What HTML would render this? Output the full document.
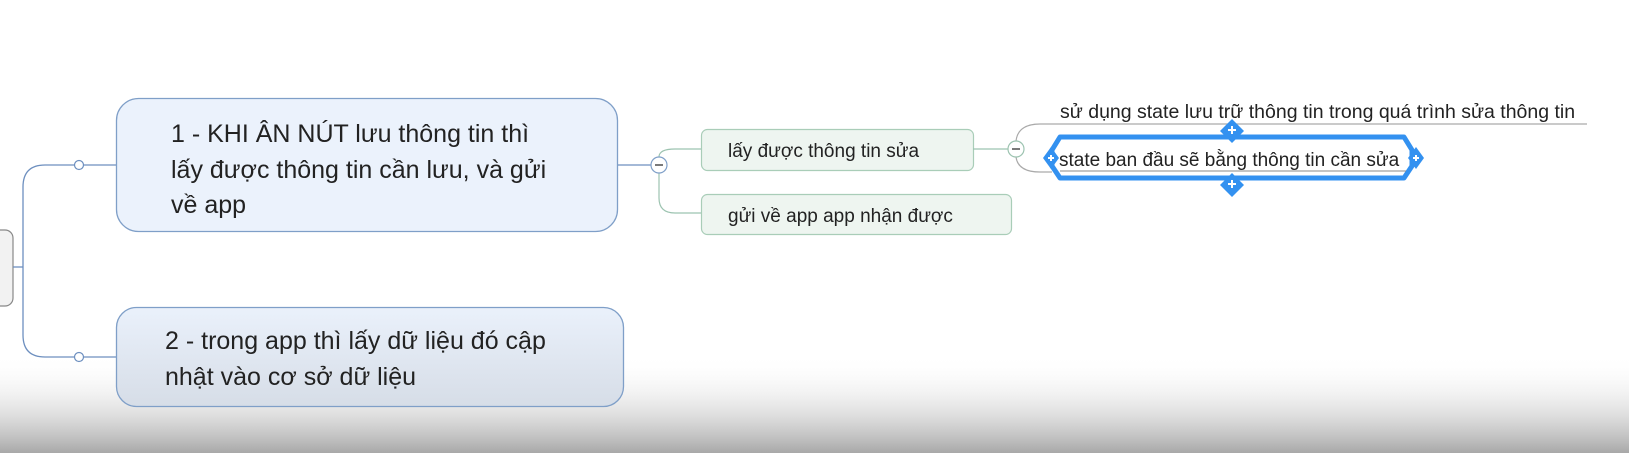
<!DOCTYPE html>
<html><head><meta charset="utf-8"><style>
html,body{margin:0;padding:0;}
body{width:1629px;height:453px;overflow:hidden;background:#fff;position:relative;font-family:"Liberation Sans","DejaVu Sans",sans-serif;}
svg{position:absolute;left:0;top:0;}
</style></head><body>
<svg width="1629" height="453" viewBox="0 0 1629 453" xmlns="http://www.w3.org/2000/svg">
<defs>
<linearGradient id="bg" x1="0" y1="0" x2="0" y2="1">
<stop offset="0" stop-color="#ffffff" stop-opacity="0"/>
<stop offset="1" stop-color="#a8a8a8"/>
</linearGradient>
<linearGradient id="b2" x1="0" y1="0" x2="0" y2="1">
<stop offset="0" stop-color="#eaf1fb"/>
<stop offset="1" stop-color="#d6dde7"/>
</linearGradient>
</defs>
<!-- bottom gradient -->
<rect x="0" y="355" width="1629" height="98" fill="url(#bg)"/>
<!-- root partial -->
<rect x="-20" y="230" width="33" height="76" rx="8" fill="#f2f2f2" stroke="#888" stroke-width="1.2"/>
<!-- root connectors -->
<path d="M13 267 H23" stroke="#6d8fbf" stroke-width="1.3" fill="none"/>
<path d="M79 165 H45 Q23 165 23 187 V335 Q23 357 45 357 H79" stroke="#6d8fbf" stroke-width="1.3" fill="none"/>
<path d="M83 165 H116 M83 357 H116" stroke="#6d8fbf" stroke-width="1.3"/>
<circle cx="79" cy="165" r="4.5" fill="#fff" stroke="#6d8fbf" stroke-width="1.2"/>
<circle cx="79" cy="357" r="4.5" fill="#fff" stroke="#6d8fbf" stroke-width="1.2"/>
<!-- box1 -->
<rect x="116.5" y="98.5" width="501" height="133" rx="22" fill="#ebf2fc" stroke="#7f9fc8" stroke-width="1.3"/>
<text font-size="25" fill="#222">
<tspan x="171" y="142">1 - KHI ÂN NÚT lưu thông tin thì</tspan>
<tspan x="171" y="178">lấy được thông tin cần lưu, và gửi</tspan>
<tspan x="171" y="213">về app</tspan>
</text>
<!-- box2 -->
<rect x="116.5" y="307.5" width="507" height="99" rx="20" fill="url(#b2)" stroke="#7f9fc8" stroke-width="1.3"/>
<text font-size="25" fill="#222">
<tspan x="165" y="349">2 - trong app thì lấy dữ liệu đó cập</tspan>
<tspan x="165" y="385">nhật vào cơ sở dữ liệu</tspan>
</text>
<!-- box1 -> circle -->
<path d="M618 165 H651" stroke="#6d8fbf" stroke-width="1.3"/>
<path d="M659 157 Q659 149 675 149 H701 M659 173 V198 Q659 213 675 213 H701" stroke="#9cc3b0" stroke-width="1.2" fill="none"/>
<circle cx="659" cy="165" r="8" fill="#fff" stroke="#7f9fc8" stroke-width="1.2"/>
<path d="M655 165 H663" stroke="#333" stroke-width="1.3"/>
<!-- green boxes -->
<rect x="701.5" y="129.5" width="272" height="41" rx="6" fill="#eef5f0" stroke="#a9cdb8" stroke-width="1.2"/>
<text x="728" y="157" font-size="19" fill="#222">lấy được thông tin sửa</text>
<rect x="701.5" y="194.5" width="310" height="40" rx="6" fill="#eef5f0" stroke="#a9cdb8" stroke-width="1.2"/>
<text x="728" y="222" font-size="19" fill="#222">gửi về app app nhận được</text>
<!-- box3 -> circle -->
<path d="M973 149 H1008" stroke="#9cc3b0" stroke-width="1.2"/>
<path d="M1016 141 Q1018 124 1040 124 H1587 M1016 157 Q1018 172 1040 172 H1052" stroke="#aaa" stroke-width="1.2" fill="none"/>
<circle cx="1016" cy="149" r="8" fill="#fff" stroke="#9cc3b0" stroke-width="1.2"/>
<path d="M1012 149 H1020" stroke="#333" stroke-width="1.3"/>
<text x="1060" y="118" font-size="19.5" fill="#222">sử dụng state lưu trữ thông tin trong quá trình sửa thông tin</text>
<!-- selected node -->
<path d="M1060 137 H1404 L1412 150 V166 L1404 178 H1060 L1052 166 V150 Z" fill="#fff" stroke="#3391f0" stroke-width="5" stroke-linejoin="round"/>
<path d="M1060 171 H1406" stroke="#888" stroke-width="1"/>
<text x="1059" y="166" font-size="19" fill="#222">state ban đầu sẽ bằng thông tin cần sửa</text>
<!-- diamonds -->
<g fill="#3391f0">
<path d="M1232 119 L1244 131 L1232 143 L1220 131Z"/>
<path d="M1232 173 L1244 185 L1232 197 L1220 185Z"/>
<path d="M1051 147 L1059 158 L1051 169 L1043 158Z"/>
<path d="M1416 147 L1424 158 L1416 169 L1408 158Z"/>
</g>
<g stroke="#fff" stroke-width="2">
<path d="M1228 130 H1236 M1232 126 V134"/>
<path d="M1228 184 H1236 M1232 180 V188"/>
<path d="M1048 158 H1054 M1051 155 V161"/>
<path d="M1413 158 H1419 M1416 155 V161"/>
</g>
</svg>
</body></html>
